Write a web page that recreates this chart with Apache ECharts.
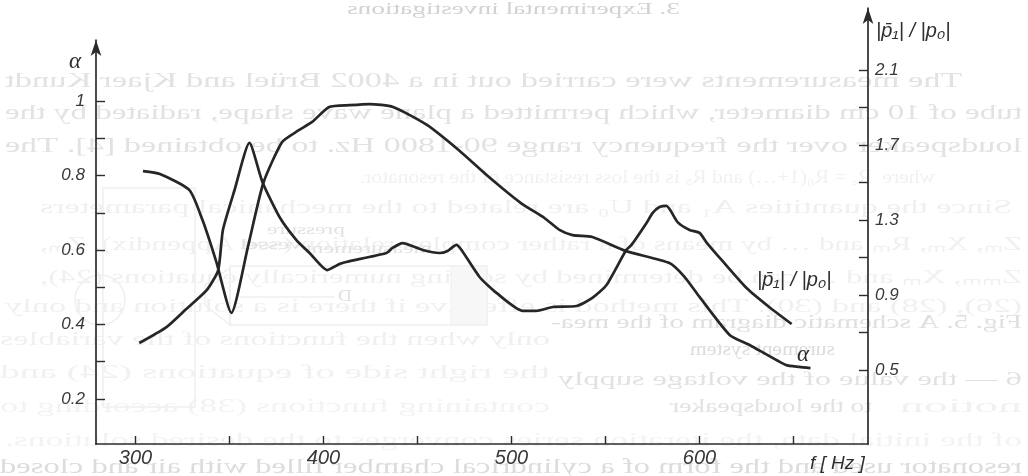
<!DOCTYPE html>
<html><head><meta charset="utf-8">
<style>html,body{margin:0;padding:0;background:#fff}#c{width:1028px;height:476px}</style>
<script src="https://cdn.jsdelivr.net/npm/echarts@6/dist/echarts.min.js"></script>
</head><body><div id="c"></div>
<script>
const alphaFreq = [304,313,328.7,335.6,343,351,360,368,378,386,394,403,414,424.5,437,455,472,488,505,517.5,525.5,532.5,543,561,584,592,600,616,626.6,646,653,659];
const alphaVal  = [0.812,0.804,0.761,0.681,0.568,0.431,0.613,0.780,0.890,0.919,0.944,0.984,0.989,0.992,0.984,0.936,0.868,0.796,0.726,0.686,0.654,0.640,0.635,0.597,0.565,0.528,0.474,0.372,0.345,0.291,0.286,0.283];
const ratioFreq = [302,316.5,327,338,344,346.5,352.7,360.6,367.5,376.6,385.6,392.6,402,408.5,412,433.5,436.7,442,452.7,461.7,466,470.7,473.4,483,492,506,513,522,534.6,543,550.5,561,563.8,571.8,575,578.7,582.4,588.3,594.7,600,604,611.7,625,637,649];
const ratioVal  = [0.644,0.729,0.825,0.927,1.033,1.247,1.460,1.711,1.503,1.316,1.193,1.124,1.033,1.065,1.076,1.124,1.151,1.177,1.14,1.124,1.135,1.167,1.14,0.996,0.911,0.815,0.815,0.836,0.841,0.884,0.953,1.14,1.167,1.284,1.337,1.369,1.375,1.289,1.247,1.231,1.177,1.087,0.937,0.836,0.745];
const freqTicks = [300,350,400,450,500,550,600,650];
const freqLabels = [300,400,500,600];
const alphaTicks = [0.2,0.3,0.4,0.5,0.6,0.7,0.8,0.9,1];
const alphaLabels = [0.2,0.4,0.6,0.8,1];
const ratioTicks = [0.5,0.7,0.9,1.1,1.3,1.5,1.7,1.9,2.1];
const ratioLabels = [0.5,0.9,1.3,1.7,2.1];
// Faint show-through of the facing page (mirrored): text, right end, left end, y, size, grey
const ghostLines = [
  ['3. Experimental investigations',680,347,10,17,'#d2d2d2'],
  ['The measurements were carried out in a 4002 Brüel and Kjaer Kundt',962,5,81,22,'#e2e2e2'],
  ['tube of 10 cm diameter, which permitted a plane wave shape, radiated by the',1022,5,113,22,'#e2e2e2'],
  ['loudspeaker over the frequency range 90-1800 Hz. to be obtained [4]. The',1022,5,146,22,'#e2e2e2'],
  ['where  Rₑ = R₀(1+…) and Rₛ is the loss resistance of the resonator.',935,360,178,18,'#f1f1f1'],
  ['Since the quantities A₁ and U₀ are related to the mechanical parameters',1012,40,208,18,'#f0f0f0'],
  ['Zₘ, Xₘ, Rₘ and … by means of a rather complex relation (see Appendix). Zₘ,',1022,40,245,18,'#f0f0f0'],
  ['Zₘₘ, Xₘ and … can be determined by solving numerically equations (24),',1022,40,278,18,'#f0f0f0'],
  ['(26), (28) and (30). This method is effective if there is a solution and only',1022,5,307,18,'#f0f0f0'],
  ['only when the functions of the variables',550,0,340,18,'#f0f0f0'],
  ['the right side of equations (24) and',550,0,373,18,'#f1f1f1'],
  ['containing functions (38) according to',550,0,407,18,'#f3f3f3'],
  ['of the initial data, the iteration series converges to the desired solutions.',1022,5,441,18,'#f3f3f3'],
  ['Fig. 5. A schematic diagram of the mea-',1022,551,323,18,'#e0e0e0'],
  ['surement system',835,690,350,18,'#dcdcdc'],
  ['6 — the value of the voltage supply',1022,558,380,18,'#e2e2e2'],
  ['to the loudspeaker',872,670,407,18,'#e2e2e2'],
  ['notion',1022,900,407,18,'#f1f1f1'],
  ['resonator used and the form of a cylindrical chamber filled with air and closed',1022,0,468,20,'#dcdcdc']
];
const ghostDiagramLabels = [['pressure',345,267,230,15],['measurement',432,305,249,15],['vessel',302,240,245,14],['D',352,338,297,17]];
const ctx = document.createElement('canvas').getContext('2d');
const ghostText = ([t,r,l,y,s,c]) => {
  const font = s+'px "Liberation Serif"';
  ctx.font = font;
  return {type:'text',x:r,y:y,scaleX:-(r-l)/ctx.measureText(t).width,z:0,silent:true,
    style:{text:t,font:font,fill:c,textAlign:'left',textVerticalAlign:'middle'}};
};
const faint = {stroke:'#efefef',fill:'none',lineWidth:1.5};
const graphic = [
  ...ghostLines.map(ghostText),
  ...ghostDiagramLabels.map(([t,r,l,y,s]) => ghostText([t,r,l,y,s,'#e2e2e2'])),
  {type:'rect',shape:{x:103,y:188,width:92,height:219},style:faint,z:0,silent:true},
  {type:'rect',shape:{x:230,y:266,width:257,height:59},style:faint,z:0,silent:true},
  {type:'rect',shape:{x:451,y:266,width:36,height:59},style:{fill:'#f7f7f7',stroke:'#efefef'},z:0,silent:true},
  {type:'circle',shape:{cx:100,cy:300,r:25},style:faint,z:0,silent:true},
  {type:'polygon',shape:{points:[[230,268],[230,325],[205,305],[205,285]]},style:faint,z:0,silent:true},
  {type:'line',shape:{x1:240,y1:297,x2:335,y2:297},style:faint,z:0,silent:true}
];
const note = (t,x,y,s,fam) => ({type:'text',x:x,y:y,z:50,silent:true,
  style:{text:t,font:'italic '+s+'px '+(fam||'"Liberation Sans"'),fill:'#2e2e2e',textAlign:'left',textVerticalAlign:'middle'}});
graphic.push(
  note('α',69,62,23,'"Liberation Serif"'),
  note('|p̄₁| / |p₀|',876,31,20),
  note('|p̄₁| / |p₀|',757,280,20),
  note('α',797,355,23,'"Liberation Serif"'),
  note('f [ Hz ]',810,464,19)
);
const lineStyle = {color:'#2c2c2c',width:1.7};
const tickStyle = {color:'#2c2c2c',width:1.4};
const axisLine = {show:true,onZero:false,lineStyle:lineStyle};
const labelFont = {fontFamily:'"Liberation Sans"',fontStyle:'italic',color:'#383838'};
const grid = (top) => ({left:96,right:160,top:top,bottom:32,containLabel:false,show:false});
const xRange = {min:279,max:689.6};
const num = v => String(v);
const option = {
  animation:false,
  backgroundColor:'#fff',
  graphic:graphic,
  grid:[grid(40),grid(8)],
  xAxis:[
    {type:'value',gridIndex:0,...xRange,splitLine:{show:false},axisLine:axisLine,
     axisTick:{inside:true,length:8,lineStyle:tickStyle,customValues:freqTicks},
     axisLabel:{...labelFont,customValues:freqLabels,margin:4,fontSize:20,formatter:num}},
    {type:'value',gridIndex:1,...xRange,show:false,splitLine:{show:false}}
  ],
  yAxis:[
    {type:'value',gridIndex:0,min:0.079,max:1.164,position:'left',splitLine:{show:false},
     axisLine:{...axisLine,symbol:['none','arrow'],symbolSize:[8,16]},
     axisTick:{inside:true,length:9,lineStyle:tickStyle,customValues:alphaTicks},
     axisLabel:{...labelFont,customValues:alphaLabels,margin:11,fontSize:17,formatter:num}},
    {type:'value',gridIndex:1,min:0.105,max:2.431,position:'right',splitLine:{show:false},
     axisLine:{...axisLine,symbol:['none','arrow'],symbolSize:[8,16]},
     axisTick:{inside:true,length:9,lineStyle:tickStyle,customValues:ratioTicks},
     axisLabel:{...labelFont,customValues:ratioLabels,margin:7,fontSize:17,formatter:num}}
  ],
  series:[
    {name:'α',type:'line',xAxisIndex:0,yAxisIndex:0,showSymbol:false,smooth:0.2,z:10,
     lineStyle:{color:'#262626',width:2.7},data:alphaFreq.map((f,i)=>[f,alphaVal[i]])},
    {name:'|p1|/|p0|',type:'line',xAxisIndex:1,yAxisIndex:1,showSymbol:false,smooth:0.2,z:10,
     lineStyle:{color:'#262626',width:2.7},data:ratioFreq.map((f,i)=>[f,ratioVal[i]])}
  ]
};
echarts.init(document.getElementById('c'),null,{renderer:'canvas'}).setOption(option);
</script>
</body></html>
